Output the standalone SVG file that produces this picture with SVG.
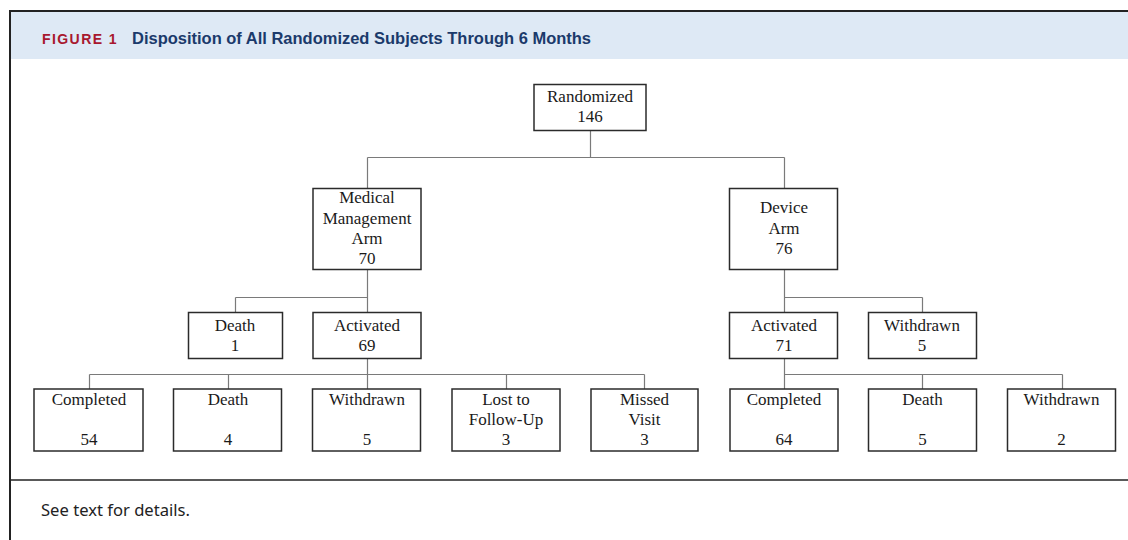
<svg xmlns="http://www.w3.org/2000/svg" width="1128" height="540" viewBox="0 0 1128 540">
<style>
.box{fill:#fff;stroke:#2b2b2b;stroke-width:1.5}
.t{font-family:"Liberation Serif","Times New Roman",serif;font-size:17px;fill:#1a1a1a;text-anchor:middle}
.c{fill:none;stroke:#7a7a7a;stroke-width:1.2}
</style>
<rect x="0" y="0" width="1128" height="540" fill="#fff"/>
<rect x="10" y="11" width="1120" height="48" fill="#dee9f5"/>
<line x1="9" y1="11" x2="1128" y2="11" stroke="#222" stroke-width="2"/>
<line x1="10" y1="10" x2="10" y2="540" stroke="#222" stroke-width="2"/>
<line x1="10" y1="480" x2="1128" y2="480" stroke="#222" stroke-width="1.6"/>
<text x="42" y="44" font-family="Liberation Sans,Arial,sans-serif" font-weight="bold" font-size="15" fill="#a8182e" textLength="76" lengthAdjust="spacingAndGlyphs" letter-spacing="1.5">FIGURE 1</text>
<text x="132" y="44" font-family="Liberation Sans,Arial,sans-serif" font-weight="bold" font-size="16.5" fill="#1b3a6b" textLength="459" lengthAdjust="spacingAndGlyphs">Disposition of All Randomized Subjects Through 6 Months</text>
<text x="41" y="516" font-family="Noto Sans,Open Sans,sans-serif" font-size="16" fill="#222" textLength="149" lengthAdjust="spacingAndGlyphs">See text for details.</text>

<g id="connectors">
<path class="c" d="M590.5 131V157.5M367.5 157.5H784.5M367.5 157.5V188M784.5 157.5V188"/>
<path class="c" d="M367.5 270V312M235.5 297.5H367.5M235.5 297.5V312"/>
<path class="c" d="M784.5 270V312M784.5 297.5H922.5M922.5 297.5V312"/>
<path class="c" d="M367.5 359V389M89.5 374.5H644.5M89.5 374.5V389M228.5 374.5V389M506.5 374.5V389M644.5 374.5V389"/>
<path class="c" d="M784.5 359V389M784.5 374.5H1062.5M922.5 374.5V389M1062.5 374.5V389"/>
</g>

<g id="randomized"><rect class="box" x="534" y="84.5" width="112" height="46"/><text class="t" x="590" y="102">Randomized</text><text class="t" x="590" y="122">146</text></g>
<g id="medical"><rect class="box" x="313" y="188.5" width="108" height="81"/><text class="t" x="367" y="203">Medical</text><text class="t" x="367" y="224">Management</text><text class="t" x="367" y="244">Arm</text><text class="t" x="367" y="264">70</text></g>
<g id="device"><rect class="box" x="729.5" y="188.5" width="108" height="81"/><text class="t" x="784" y="213">Device</text><text class="t" x="784" y="234">Arm</text><text class="t" x="784" y="254">76</text></g>
<g id="death1"><rect class="box" x="188.5" y="312.5" width="94" height="46"/><text class="t" x="235" y="331">Death</text><text class="t" x="235" y="351">1</text></g>
<g id="activated69"><rect class="box" x="313" y="312.5" width="108" height="46"/><text class="t" x="367" y="331">Activated</text><text class="t" x="367" y="351">69</text></g>
<g id="activated71"><rect class="box" x="729.5" y="312.5" width="108" height="46"/><text class="t" x="784" y="331">Activated</text><text class="t" x="784" y="351">71</text></g>
<g id="withdrawn5a"><rect class="box" x="868.5" y="312.5" width="108" height="46"/><text class="t" x="922" y="331">Withdrawn</text><text class="t" x="922" y="351">5</text></g>

<g id="completed54"><rect class="box" x="34" y="389" width="109" height="62"/><text class="t" x="89" y="405">Completed</text><text class="t" x="89" y="445">54</text></g>
<g id="death4"><rect class="box" x="173.5" y="389" width="108" height="62"/><text class="t" x="228" y="405">Death</text><text class="t" x="228" y="445">4</text></g>
<g id="withdrawn5b"><rect class="box" x="312.5" y="389" width="108" height="62"/><text class="t" x="367" y="405">Withdrawn</text><text class="t" x="367" y="445">5</text></g>
<g id="lost"><rect class="box" x="452" y="389" width="108" height="62"/><text class="t" x="506" y="405">Lost to</text><text class="t" x="506" y="425">Follow-Up</text><text class="t" x="506" y="445">3</text></g>
<g id="missed"><rect class="box" x="591" y="389" width="107" height="62"/><text class="t" x="644.5" y="405">Missed</text><text class="t" x="644.5" y="425">Visit</text><text class="t" x="644.5" y="445">3</text></g>
<g id="completed64"><rect class="box" x="730" y="389" width="108" height="62"/><text class="t" x="784" y="405">Completed</text><text class="t" x="784" y="445">64</text></g>
<g id="death5"><rect class="box" x="868.5" y="389" width="108" height="62"/><text class="t" x="922.5" y="405">Death</text><text class="t" x="922.5" y="445">5</text></g>
<g id="withdrawn2"><rect class="box" x="1007.5" y="389" width="108" height="62"/><text class="t" x="1061.5" y="405">Withdrawn</text><text class="t" x="1061.5" y="445">2</text></g>
</svg>
